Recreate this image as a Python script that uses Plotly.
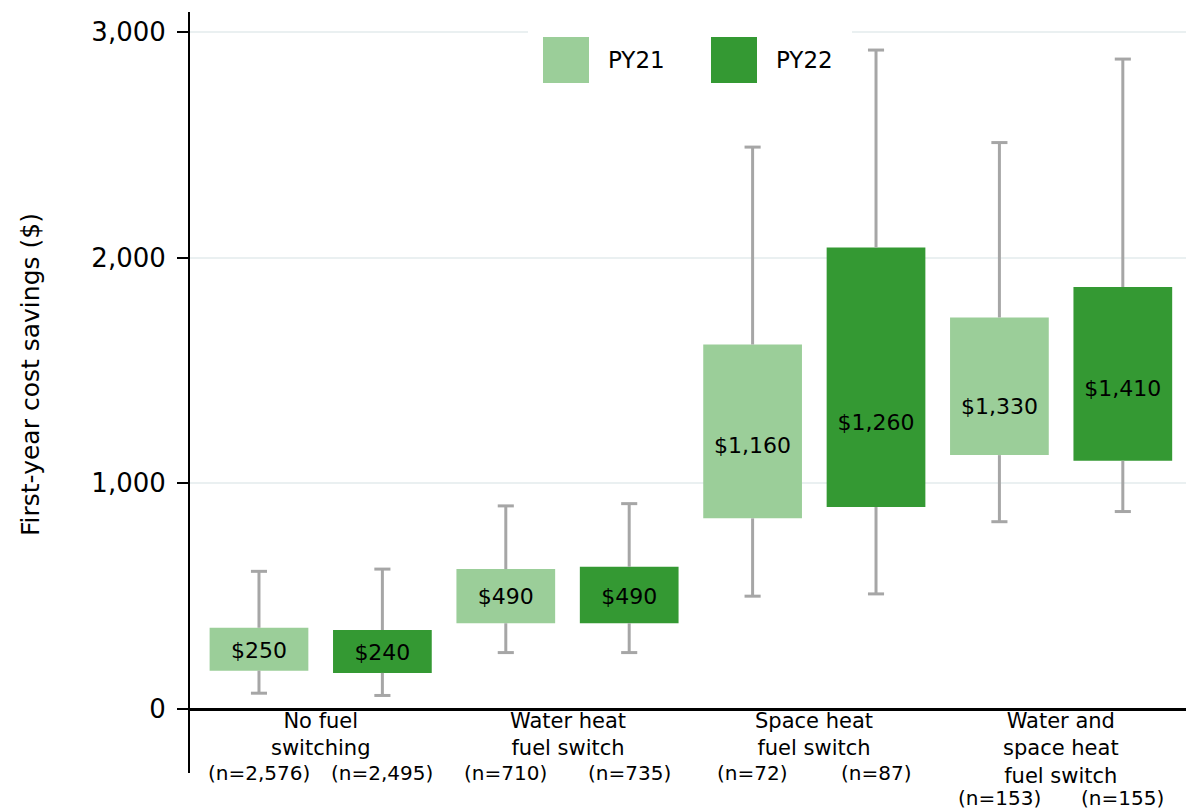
import plotly.graph_objects as go

# Data (one entry per box: category by category, PY21 then PY22)
categories = ["No fuel<br>switching", "Water heat<br>fuel switch",
              "Space heat<br>fuel switch", "Water and<br>space heat<br>fuel switch"]
years = ["PY21", "PY22"]
n_counts = ["2,576", "2,495", "710", "735", "72", "87", "153", "155"]
medians = [250, 240, 490, 490, 1160, 1260, 1330, 1410]
q1 = [170, 160, 380, 380, 845, 895, 1125, 1100]
q3 = [360, 350, 620, 630, 1615, 2045, 1735, 1870]
lower = [70, 60, 250, 250, 500, 510, 830, 875]
upper = [610, 620, 900, 910, 2490, 2920, 2510, 2880]

colors = {"PY21": "#9BCE99", "PY22": "#349933"}
whisker_color = "#A6A6A6"
FONT = "DejaVu Sans"

positions = list(range(len(medians)))

# pixel helpers for layout-only items (legend, titles)
L, R, T, B = 190, 1186, 12, 773
def px(xp):
    return (xp - L) / (R - L)
def py(yp):
    return (B - yp) / (B - T)

fig = go.Figure()

# whiskers: only the parts outside the box
wx, wy = [], []
for p, a, b, lo, hi in zip(positions, q1, q3, lower, upper):
    wx += [p, p, None, p, p, None]
    wy += [b, hi, None, a, lo, None]
fig.add_trace(go.Scatter(x=wx, y=wy, mode="lines", line=dict(color=whisker_color, width=3),
                         hoverinfo="skip", showlegend=False))
fig.add_trace(go.Scatter(x=positions + positions, y=upper + lower, mode="markers",
                         marker=dict(symbol="line-ew", size=11.5,
                                     line=dict(color=whisker_color, width=3)),
                         hoverinfo="skip", showlegend=False))

# boxes
for k, yr in enumerate(years):
    idx = [i for i in positions if i % 2 == k]
    fig.add_trace(go.Bar(
        x=[positions[i] for i in idx],
        y=[q3[i] - q1[i] for i in idx],
        base=[q1[i] for i in idx],
        width=0.8,
        marker=dict(color=colors[yr], line=dict(width=0)),
        name=yr, showlegend=False,
    ))

# median labels
fig.add_trace(go.Scatter(
    x=positions, y=medians, mode="text",
    text=[f"${m:,}" for m in medians],
    textfont=dict(family=FONT, size=22, color="black"),
    hoverinfo="skip", showlegend=False,
))

annotations = []
for i, cat in enumerate(categories):
    annotations.append(dict(x=2 * i + 0.5, y=0, xref="x", yref="y", text=cat,
                            showarrow=False, yanchor="top", yshift=2,
                            font=dict(family=FONT, size=21, color="black")))
    lines = cat.count("<br>") + 1
    for k in range(2):
        p = 2 * i + k
        annotations.append(dict(x=p, y=0, xref="x", yref="y", text=f"(n={n_counts[p]})",
                                showarrow=False, yanchor="middle",
                                yshift=-(lines * 25 + 14),
                                font=dict(family=FONT, size=20, color="black")))

annotations.append(dict(x=px(30), y=py(375), xref="paper", yref="paper",
                        text="First-year cost savings ($)", textangle=-90,
                        showarrow=False, xanchor="center", yanchor="middle",
                        font=dict(family=FONT, size=25, color="black")))

# manual legend with large swatches
shapes = [dict(type="rect", xref="paper", yref="paper", x0=px(528), x1=px(852),
               y0=py(95), y1=py(18), fillcolor="white", line=dict(width=0), layer="above")]
leg_x = {"PY21": 543, "PY22": 711}
for yr in years:
    x0 = leg_x[yr]
    shapes.append(dict(type="rect", xref="paper", yref="paper", x0=px(x0), x1=px(x0 + 46),
                       y0=py(83), y1=py(37), fillcolor=colors[yr], line=dict(width=0),
                       layer="above"))
    annotations.append(dict(x=px(x0 + 63), y=py(60), xref="paper", yref="paper", text=yr,
                            showarrow=False, xanchor="left", yanchor="middle",
                            font=dict(family=FONT, size=23, color="black")))

fig.update_layout(
    width=1186, height=810,
    margin=dict(l=L, r=1186 - R, t=T, b=810 - B),
    paper_bgcolor="white", plot_bgcolor="white",
    barmode="overlay",
    showlegend=False,
    font=dict(family=FONT, color="black"),
    annotations=annotations,
    shapes=shapes,
    xaxis=dict(range=[-0.559, 7.512], showgrid=False, zeroline=False, showline=False,
               showticklabels=False, ticks=""),
    yaxis=dict(range=[-283.6, 3088.6], tickvals=[0, 1000, 2000, 3000],
               ticktext=["0", "1,000", "2,000", "3,000"],
               tickfont=dict(family=FONT, size=26, color="black"),
               ticks="outside", ticklen=11, tickwidth=2, tickcolor="black",
               ticklabelstandoff=6,
               showline=True, linecolor="black", linewidth=2,
               showgrid=True, gridcolor="#EAF0F1", gridwidth=2,
               zeroline=True, zerolinecolor="black", zerolinewidth=3),
)

fig.write_html("out.html", config={"displayModeBar": False},
               post_script="document.body.style.margin='0';document.body.style.overflow='hidden';")
